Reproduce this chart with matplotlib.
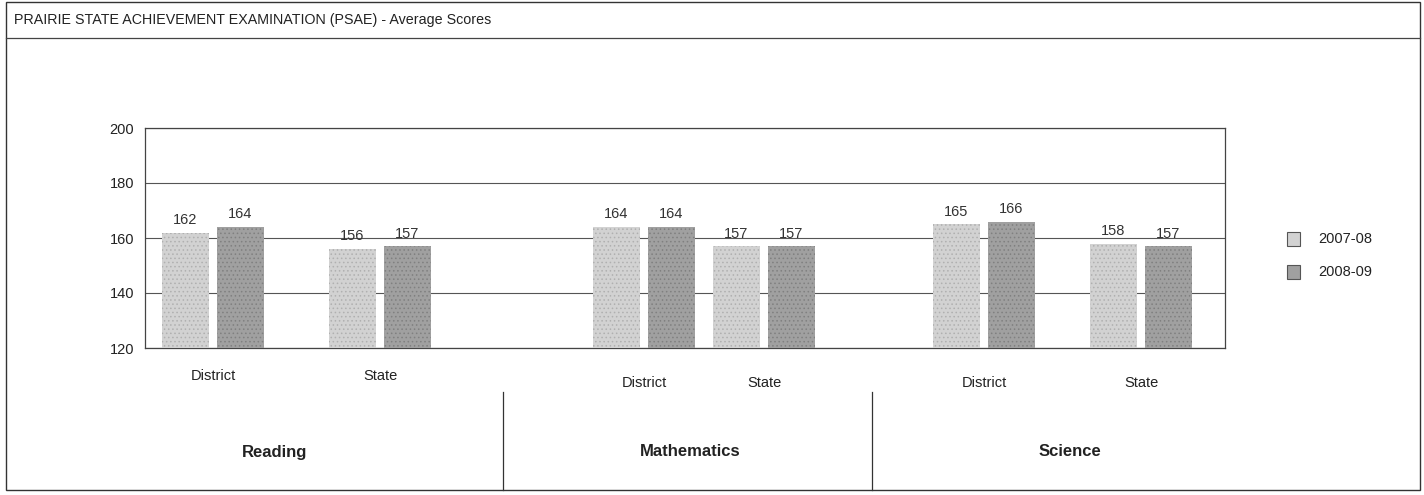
import matplotlib
matplotlib.use("Agg")
import matplotlib.pyplot as plt
from matplotlib.lines import Line2D
from matplotlib.patches import Rectangle
from matplotlib import font_manager

TITLE = "PRAIRIE STATE ACHIEVEMENT EXAMINATION (PSAE) - Average Scores"
SUBJECTS = ["Reading", "Mathematics", "Science"]
GROUPS = ["District", "State"]
SERIES = ["2007-08", "2008-09"]
SCORES_0708 = [162, 156, 164, 157, 165, 158]
SCORES_0809 = [164, 157, 164, 157, 166, 157]
Y_TICKS = [120, 140, 160, 180, 200]

# layout (pixel-ish units along the x axis)
PAIR_CENTERS = [68, 235, 499, 619, 839, 996]
BAR_W = 47
BAR_OFF = 27.5
COLORS = ["#d2d2d2", "#a0a0a0"]
HATCH_COLORS = ["#b0b0b0", "#808080"]

W, H = 1424, 495
names = {f.name for f in font_manager.fontManager.ttflist}
fam = ["Liberation Sans Narrow"] if "Liberation Sans Narrow" in names else []
plt.rcParams["font.family"] = fam + ["Liberation Sans", "DejaVu Sans"]
plt.rcParams["hatch.linewidth"] = 0.6

fig = plt.figure(figsize=(W / 100, H / 100), dpi=100)


def fx(px):
    return px / W


def fy(py):
    return 1 - py / H


ax = fig.add_axes([fx(145), fy(348), fx(1225) - fx(145), fy(128) - fy(348)])
ax.set_xlim(0, 1080)
ax.set_ylim(120, 200)
ax.set_yticks(Y_TICKS)
ax.set_xticks([])
ax.tick_params(axis="y", length=0, labelsize=10.5, colors="#222222", pad=8)
for sp in ax.spines.values():
    sp.set_color("#444444")
    sp.set_linewidth(0.9)
ax.yaxis.grid(True, color="#555555", linewidth=0.8)
ax.set_axisbelow(True)

for vals, off, col, hc in [(SCORES_0708, -BAR_OFF, COLORS[0], HATCH_COLORS[0]),
                           (SCORES_0809, BAR_OFF, COLORS[1], HATCH_COLORS[1])]:
    xs = [c + off for c in PAIR_CENTERS]
    bars = ax.bar(xs, [v - 120 for v in vals], bottom=120, width=BAR_W,
                  color=col, edgecolor=hc, linewidth=0, hatch="....", zorder=3)
    for b, v in zip(bars, vals):
        ax.annotate(str(v), (b.get_x() + b.get_width() / 2, v), xytext=(0, 4),
                    textcoords="offset points", ha="center", va="bottom",
                    fontsize=10.5, color="#333333", zorder=4)

# category labels under the axis
label_y = [376, 376, 383, 383, 383, 383]
for c, yy, i in zip(PAIR_CENTERS, label_y, range(6)):
    xpix = 145 + c
    fig.text(fx(xpix), fy(yy), GROUPS[i % 2], ha="center", va="center",
             fontsize=10.5, color="#222222")

# subject labels and separators
subj_x = [275, 690, 1070]
for s, xp in zip(SUBJECTS, subj_x):
    fig.text(fx(xp), fy(452), s, ha="center", va="center", fontsize=12,
             fontweight="bold", color="#222222")
for xp in [503, 872]:
    fig.add_artist(Line2D([fx(xp), fx(xp)], [fy(392), fy(490)], color="#333333", lw=0.9))

# legend
for i, (s, col) in enumerate(zip(SERIES, COLORS)):
    yc = 239 + i * 33
    fig.add_artist(Rectangle((fx(1287), fy(yc + 7)), fx(13), fy(0) - fy(14),
                             facecolor=col, edgecolor="#555555", lw=0.8))
    fig.text(fx(1318), fy(yc), s, ha="left", va="center", fontsize=10.5, color="#222222")

# header and border
fig.text(fx(14), fy(20), TITLE, ha="left", va="center", fontsize=10.3, color="#222222")
fig.add_artist(Line2D([fx(6), fx(1420)], [fy(38), fy(38)], color="#444444", lw=0.9))
fig.add_artist(Rectangle((fx(6), fy(490)), fx(1414), fy(2) - fy(490),
                         facecolor="none", edgecolor="#333333", lw=1.0))

fig.savefig("out.png", dpi=100)
